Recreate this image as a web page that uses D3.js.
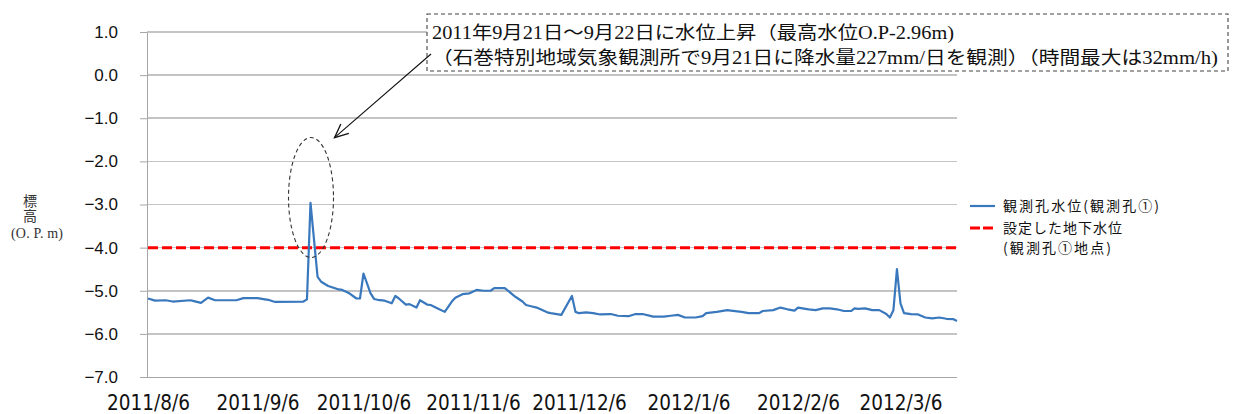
<!DOCTYPE html>
<html>
<head>
<meta charset="utf-8">
<script src="https://cdn.jsdelivr.net/npm/d3@7"></script>
<style>
  html, body { margin: 0; padding: 0; background: #fff; }
  svg { display: block; }
</style>
</head>
<body>
<script>
// Observation well water level (O.P. m)
const obsDates = [
  "2011/8/6","2011/8/8","2011/8/11","2011/8/13","2011/8/18","2011/8/19","2011/8/21","2011/8/23","2011/8/25","2011/8/31",
  "2011/9/2","2011/9/6","2011/9/9","2011/9/11","2011/9/19","2011/9/20","2011/9/21","2011/9/23","2011/9/24","2011/9/26",
  "2011/9/29","2011/9/30","2011/10/2","2011/10/4","2011/10/5","2011/10/6","2011/10/8","2011/10/9","2011/10/10","2011/10/12",
  "2011/10/14","2011/10/15","2011/10/16","2011/10/18","2011/10/19","2011/10/21","2011/10/22","2011/10/24","2011/10/25","2011/10/27",
  "2011/10/29","2011/10/31","2011/11/1","2011/11/3","2011/11/5","2011/11/7","2011/11/9","2011/11/11","2011/11/12","2011/11/15",
  "2011/11/18","2011/11/20","2011/11/21","2011/11/23","2011/11/24","2011/11/27","2011/11/28","2011/12/1","2011/12/4","2011/12/5",
  "2011/12/6","2011/12/8","2011/12/10","2011/12/12","2011/12/15","2011/12/17","2011/12/20","2011/12/22","2011/12/24","2011/12/27",
  "2011/12/30","2012/1/1","2012/1/3","2012/1/5","2012/1/8","2012/1/10","2012/1/11","2012/1/14","2012/1/17","2012/1/18",
  "2012/1/21","2012/1/23","2012/1/26","2012/1/27","2012/1/30","2012/2/1","2012/2/3","2012/2/5","2012/2/6","2012/2/9",
  "2012/2/11","2012/2/13","2012/2/15","2012/2/17","2012/2/19","2012/2/21","2012/2/22","2012/2/23","2012/2/25","2012/2/27",
  "2012/2/29","2012/3/2","2012/3/3","2012/3/4","2012/3/5","2012/3/6","2012/3/7","2012/3/9","2012/3/11","2012/3/13",
  "2012/3/15","2012/3/17","2012/3/19","2012/3/21","2012/3/22"
];
const obsLevels = [
  -5.18,-5.23,-5.22,-5.25,-5.22,-5.24,-5.28,-5.16,-5.22,-5.22,
  -5.17,-5.17,-5.21,-5.26,-5.25,-5.20,-2.96,-4.68,-4.79,-4.89,
  -4.97,-4.98,-5.06,-5.18,-5.18,-4.60,-5.06,-5.19,-5.21,-5.23,
  -5.29,-5.12,-5.18,-5.32,-5.31,-5.39,-5.22,-5.32,-5.33,-5.41,
  -5.49,-5.25,-5.16,-5.08,-5.06,-4.98,-5.00,-5.00,-4.94,-4.94,
  -5.14,-5.25,-5.33,-5.37,-5.39,-5.50,-5.52,-5.56,-5.12,-5.49,
  -5.52,-5.50,-5.52,-5.55,-5.54,-5.58,-5.59,-5.54,-5.54,-5.60,
  -5.60,-5.58,-5.56,-5.62,-5.62,-5.59,-5.52,-5.49,-5.45,-5.46,
  -5.49,-5.52,-5.52,-5.47,-5.45,-5.39,-5.43,-5.46,-5.39,-5.43,
  -5.45,-5.41,-5.41,-5.43,-5.47,-5.47,-5.41,-5.42,-5.41,-5.45,
  -5.45,-5.54,-5.62,-5.45,-4.50,-5.29,-5.52,-5.54,-5.55,-5.62,
  -5.64,-5.62,-5.65,-5.66,-5.70
];

// Design groundwater level
const designLevel = -4.0;

// Axis extents and tick labels
const xStart = "2011/8/6";
const xEnd = "2012/3/22";
const xTickLabels = ["2011/8/6","2011/9/6","2011/10/6","2011/11/6","2011/12/6","2012/1/6","2012/2/6","2012/3/6"];
const yTicks = [1, 0, -1, -2, -3, -4, -5, -6, -7];

const legendLabels = ["観測孔水位(観測孔①)", "設定した地下水位", "(観測孔①地点)"];
const noteLines = [
  "2011年9月21日～9月22日に水位上昇（最高水位O.P-2.96m)",
  "（石巻特別地域気象観測所で9月21日に降水量227mm/日を観測）（時間最大は32mm/h)"
];

const W = 1236, H = 414;
const plot = { left: 147, right: 957, top: 32, bottom: 377 };
const parse = d3.timeParse("%Y/%m/%d");

const x = d3.scaleTime()
  .domain([parse(xStart), parse(xEnd)])
  .range([plot.left + 1, plot.right]);
const y = d3.scaleLinear()
  .domain([-7, 1])
  .range([plot.bottom, plot.top]);

const series = obsDates.map((d, i) => ({ date: parse(d), v: obsLevels[i] }));

const svg = d3.select("body").append("svg")
  .attr("width", W).attr("height", H)
  .attr("viewBox", `0 0 ${W} ${H}`);

svg.append("rect").attr("width", W).attr("height", H).attr("fill", "#fff");

// Horizontal gridlines (bottom one doubles as the category axis)
svg.append("g")
  .selectAll("line")
  .data(yTicks)
  .join("line")
  .attr("x1", plot.left).attr("x2", plot.right)
  .attr("y1", d => y(d)).attr("y2", d => y(d))
  .attr("stroke", d => d === -7 ? "#a6a6a6" : "#c4c4c4")
  .attr("stroke-width", d => d === -7 ? 1 : 1.6)
  .attr("shape-rendering", "crispEdges");

// Value axis with outside ticks
const yAxis = d3.axisLeft(y)
  .tickValues(yTicks)
  .tickFormat(d3.format(".1f"))
  .tickSize(7)
  .tickSizeOuter(0)
  .tickPadding(22);

const gy = svg.append("g")
  .attr("transform", `translate(${plot.left},0)`)
  .call(yAxis);
gy.select(".domain").attr("stroke", "#a6a6a6");
gy.selectAll(".tick line").attr("stroke", "#a6a6a6");
gy.selectAll(".tick text")
  .attr("fill", "#111")
  .style("font-family", "'Liberation Sans', Arial, sans-serif")
  .style("font-size", "17px");

// Date axis labels
const xAxis = d3.axisBottom(x)
  .tickValues(xTickLabels.map(parse))
  .tickFormat((d, i) => xTickLabels[i])
  .tickSize(0)
  .tickPadding(18);

const gx = svg.append("g")
  .attr("transform", `translate(0,${plot.bottom})`)
  .call(xAxis);
gx.select(".domain").remove();
gx.selectAll(".tick text")
  .attr("fill", "#111")
  .style("font-family", "'Liberation Sans Narrow', 'DejaVu Sans Condensed', sans-serif")
  .style("font-size", "20.5px");

// Design level (red dashed)
svg.append("line")
  .attr("x1", plot.left + 1).attr("x2", plot.right)
  .attr("y1", y(designLevel)).attr("y2", y(designLevel))
  .attr("stroke", "#ff0000")
  .attr("stroke-width", 3)
  .attr("stroke-dasharray", "10,4");

// Water level series
const line = d3.line()
  .x(d => x(d.date))
  .y(d => y(d.v));

svg.append("path")
  .datum(series)
  .attr("d", line)
  .attr("fill", "none")
  .attr("stroke", "#3a78bd")
  .attr("stroke-width", 2.2)
  .attr("stroke-linejoin", "round");

// Highlight around the September peak
const peak = series.reduce((a, b) => (b.v > a.v ? b : a));
const px = x(peak.date);
svg.append("ellipse")
  .attr("cx", px + 0.5)
  .attr("cy", y(-3.0) - 7)
  .attr("rx", 22.5)
  .attr("ry", 60)
  .attr("fill", "none")
  .attr("stroke", "#333")
  .attr("stroke-width", 1.1)
  .attr("stroke-dasharray", "4,3");

// Callout box
const noteBox = { x: 427, y: 14, w: 801, h: 57 };
svg.append("rect")
  .attr("x", noteBox.x).attr("y", noteBox.y)
  .attr("width", noteBox.w).attr("height", noteBox.h)
  .attr("fill", "#fff")
  .attr("stroke", "#444")
  .attr("stroke-width", 1.1)
  .attr("stroke-dasharray", "4,3");

const noteFont = "'Liberation Serif', 'Noto Sans CJK JP', serif";
svg.append("g")
  .selectAll("text")
  .data(noteLines)
  .join("text")
  .attr("x", 432)
  .attr("y", (d, i) => 39 + i * 25)
  .attr("textLength", (d, i) => i === 0 ? 522 : 786)
  .attr("lengthAdjust", "spacingAndGlyphs")
  .attr("fill", "#111")
  .style("font-family", noteFont)
  .style("font-size", "18px")
  .text(d => d);

// Arrow from callout to the peak
const ax1 = 431, ay1 = 54, ax2 = px + 24, ay2 = y(-1.45);
svg.append("line")
  .attr("x1", ax1).attr("y1", ay1).attr("x2", ax2).attr("y2", ay2)
  .attr("stroke", "#111").attr("stroke-width", 1.1);
const ang = Math.atan2(ay2 - ay1, ax2 - ax1);
const headLen = 15, spread = 0.42;
svg.append("path")
  .attr("d", `M${ax2 - headLen * Math.cos(ang - spread)},${ay2 - headLen * Math.sin(ang - spread)}
              L${ax2},${ay2}
              L${ax2 - headLen * Math.cos(ang + spread)},${ay2 - headLen * Math.sin(ang + spread)}`)
  .attr("fill", "none")
  .attr("stroke", "#111")
  .attr("stroke-width", 1.3);

// Value axis title
const titleFont = "'Liberation Serif', 'Noto Sans CJK JP', serif";
const yTitle = svg.append("g").attr("fill", "#333")
  .style("font-family", titleFont).style("font-size", "14px")
  .attr("text-anchor", "middle");
yTitle.append("text").attr("x", 30).attr("y", 206).text("標");
yTitle.append("text").attr("x", 30).attr("y", 221).text("高");
yTitle.append("text").attr("x", 11).attr("y", 238)
  .attr("text-anchor", "start")
  .attr("textLength", 52).attr("lengthAdjust", "spacing")
  .text("(O. P. m)");

// Legend
const legendFont = "'Noto Sans CJK JP', sans-serif";
const lg = svg.append("g")
  .style("font-family", legendFont)
  .style("font-size", "14px")
  .attr("fill", "#111");
lg.append("line")
  .attr("x1", 970).attr("x2", 995).attr("y1", 206).attr("y2", 206)
  .attr("stroke", "#3a78bd").attr("stroke-width", 2.2);
lg.append("line")
  .attr("x1", 970).attr("x2", 995).attr("y1", 228).attr("y2", 228)
  .attr("stroke", "#ff0000").attr("stroke-width", 3)
  .attr("stroke-dasharray", "10,3");
lg.selectAll("text")
  .data(legendLabels)
  .join("text")
  .attr("x", 1003)
  .attr("y", (d, i) => [206, 228, 248][i])
  .attr("dy", "0.35em")
  .attr("textLength", (d, i) => [156, 119, 108][i])
  .attr("lengthAdjust", "spacing")
  .text(d => d);
</script>
</body>
</html>
